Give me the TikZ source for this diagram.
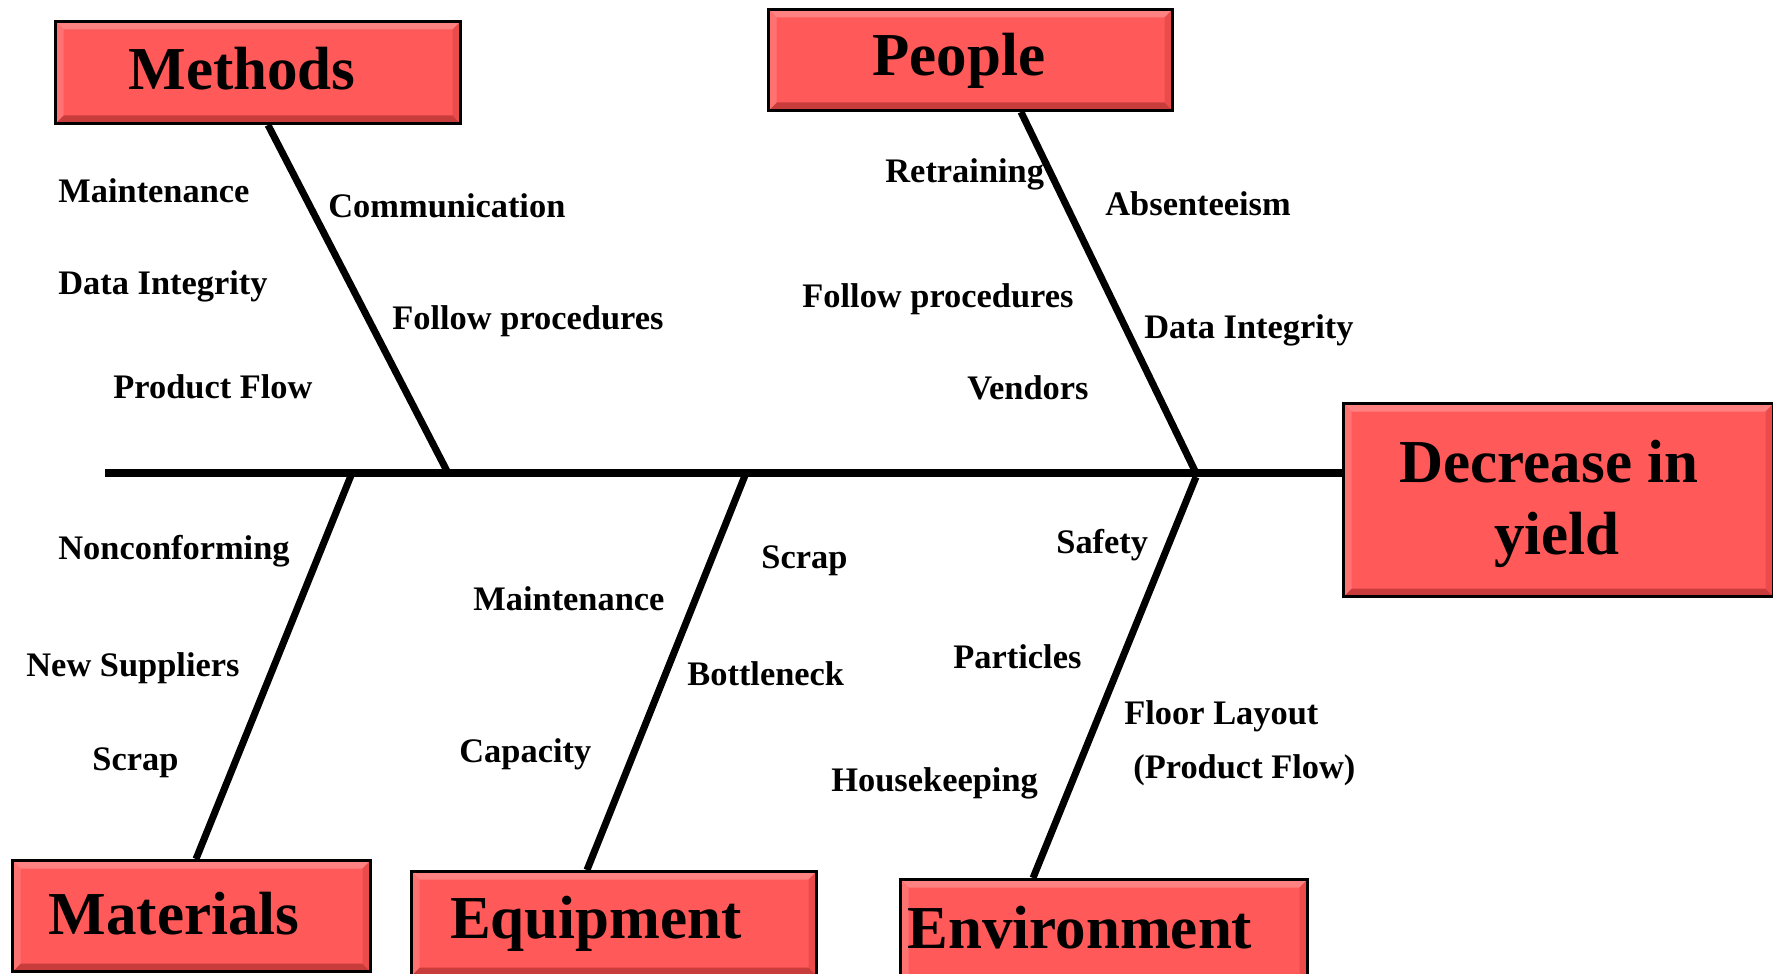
\documentclass[tikz,border=0pt]{standalone}
\usepackage{fontspec}
\setmainfont{Liberation Serif}
\usetikzlibrary{calc}
\definecolor{boxred}{RGB}{255,89,89}
\definecolor{boxlight}{RGB}{255,130,130}
\definecolor{boxdark}{RGB}{200,60,60}
\definecolor{boxmid}{RGB}{235,75,75}
\tikzset{
  box/.style={draw=black, line width=1.5pt, fill=boxred, inner sep=0pt, anchor=north west,
    path picture={
      \fill[boxlight] (path picture bounding box.north west) -- (path picture bounding box.north east)
        -- ([xshift=-4pt,yshift=-4pt]path picture bounding box.north east)
        -- ([xshift=4pt,yshift=-4pt]path picture bounding box.north west) -- cycle;
      \fill[boxdark] (path picture bounding box.south west) -- (path picture bounding box.south east)
        -- ([xshift=-4pt,yshift=4pt]path picture bounding box.south east)
        -- ([xshift=4pt,yshift=4pt]path picture bounding box.south west) -- cycle;
      \fill[boxmid] (path picture bounding box.north east) -- (path picture bounding box.south east)
        -- ([xshift=-4pt,yshift=4pt]path picture bounding box.south east)
        -- ([xshift=-4pt,yshift=-4pt]path picture bounding box.north east) -- cycle;
      \fill[boxlight!60!boxred] (path picture bounding box.north west) -- (path picture bounding box.south west)
        -- ([xshift=4pt,yshift=4pt]path picture bounding box.south west)
        -- ([xshift=4pt,yshift=-4pt]path picture bounding box.north west) -- cycle;
    }},
  title/.style={font=\fontsize{30.5pt}{37pt}\selectfont\bfseries, inner sep=0pt, anchor=base},
  lbl/.style={font=\fontsize{17.2pt}{20pt}\selectfont\bfseries, inner sep=0pt, anchor=base west},
  bone/.style={line width=3.5pt},
  spine/.style={line width=4pt}
}
\begin{document}
\begin{tikzpicture}[x=0.5pt,y=-0.5pt]
\useasboundingbox (0,0) rectangle (1773,974);
\clip (0,0) rectangle (1773,974);
% boxes
\node[box, minimum width=202.5pt, minimum height=51pt] (methods) at (54,20) {};
\node[box, minimum width=202pt, minimum height=50.5pt] (people) at (767,8) {};
\node[box, minimum width=215pt, minimum height=96.5pt] (effect) at (1342,402) {};
\node[box, minimum width=179pt, minimum height=55.5pt] (materials) at (11,859) {};
\node[box, minimum width=202.5pt, minimum height=52pt] (equipment) at (410,870) {};
\node[box, minimum width=203.5pt, minimum height=60pt] (environment) at (899,878) {};
% titles
\node[title] (methodsT) at (242,90) {Methods};
\node[title] (peopleT) at (959,76) {People};
\node[title] (materialsT) at (174,934) {Materials};
\node[title] (equipmentT) at (596,938) {Equipment};
\node[title] (environmentT) at (1080,948) {Environment};
\node[title] (effectT1) at (1549,482) {Decrease in};
\node[title] (effectT2) at (1557,554) {yield};
% spine and bones
\coordinate (tail) at (105,473);
\coordinate (jm) at (448,473);
\coordinate (jp) at (1196,473);
\coordinate (jmat) at (352,473);
\coordinate (jeq) at (746,473);
\coordinate (jenv) at (1196,477);
\draw[spine] (tail) -- (effect.west |- tail);
\draw[bone] (jm) -- (methods.south west -| 268,0);
\draw[bone] (jp) -- (people.south west -| 1021,0);
\draw[bone] (jmat) -- (materials.north west -| 196,0);
\draw[bone] (jeq) -- (equipment.north west -| 587,0);
\draw[bone] (jenv) -- (environment.north west -| 1033,0);
% labels
\node[lbl] (m1) at (58,203) {Maintenance};
\node[lbl] (m2) at (328,217) {Communication};
\node[lbl] (m3) at (58,294) {Data Integrity};
\node[lbl] (m4) at (392,329) {Follow procedures};
\node[lbl] (m5) at (113,398) {Product Flow};
\node[lbl] (p1) at (885,183) {Retraining};
\node[lbl] (p2) at (1105,215) {Absenteeism};
\node[lbl] (p3) at (802,307) {Follow procedures};
\node[lbl] (p4) at (1144,338) {Data Integrity};
\node[lbl] (p5) at (967,399) {Vendors};
\node[lbl] (a1) at (58,559) {Nonconforming};
\node[lbl] (a2) at (26,676) {New Suppliers};
\node[lbl] (a3) at (92,770) {Scrap};
\node[lbl] (e1) at (473,610) {Maintenance};
\node[lbl] (e2) at (761,568) {Scrap};
\node[lbl] (e3) at (687,685) {Bottleneck};
\node[lbl] (e4) at (459,762) {Capacity};
\node[lbl] (v1) at (1056,553) {Safety};
\node[lbl] (v2) at (953,668) {Particles};
\node[lbl] (v3) at (831,791) {Housekeeping};
\node[lbl] (v4) at (1124,724) {Floor Layout};
\node[lbl] (v5) at (1133,778) {(Product Flow)};
\end{tikzpicture}
\end{document}
